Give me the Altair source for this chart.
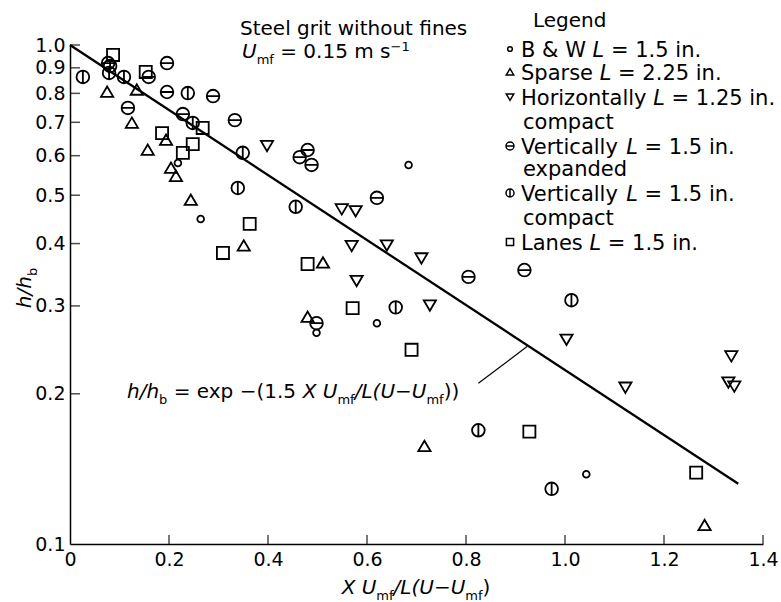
import altair as alt
import pandas as pd

# ---------------- data ----------------
bw_x = [0.218, 0.264, 0.498, 0.620, 0.684, 1.043]
bw_y = [0.580, 0.448, 0.265, 0.277, 0.575, 0.138]

sparse_x = [0.075, 0.135, 0.125, 0.194, 0.157, 0.204, 0.214, 0.244, 0.351, 0.511, 0.480, 0.716, 1.282]
sparse_y = [0.805, 0.813, 0.698, 0.645, 0.616, 0.567, 0.546, 0.489, 0.396, 0.366, 0.285, 0.157, 0.109]

horiz_x = [0.398, 0.549, 0.577, 0.569, 0.640, 0.710, 0.579, 0.727, 1.003, 1.122, 1.336, 1.330, 1.342]
horiz_y = [0.628, 0.469, 0.465, 0.396, 0.397, 0.374, 0.337, 0.301, 0.257, 0.206, 0.238, 0.211, 0.207]

vexp_x = [0.077, 0.159, 0.196, 0.196, 0.289, 0.117, 0.228, 0.333, 0.464, 0.480, 0.488, 0.620, 0.498, 0.805, 0.918]
vexp_y = [0.920, 0.863, 0.920, 0.805, 0.790, 0.748, 0.727, 0.707, 0.596, 0.616, 0.575, 0.494, 0.277, 0.343, 0.354]

vcomp_x = [0.026, 0.079, 0.081, 0.109, 0.238, 0.248, 0.349, 0.339, 0.456, 0.658, 1.013, 0.825, 0.973]
vcomp_y = [0.863, 0.879, 0.908, 0.863, 0.801, 0.698, 0.608, 0.517, 0.474, 0.298, 0.308, 0.169, 0.129]

lanes_x = [0.087, 0.153, 0.268, 0.186, 0.248, 0.228, 0.363, 0.309, 0.480, 0.571, 0.690, 0.928, 1.265]
lanes_y = [0.955, 0.883, 0.682, 0.666, 0.633, 0.608, 0.438, 0.383, 0.364, 0.297, 0.245, 0.168, 0.139]

fit_x = [0.0, 1.35]
fit_y = [1.0, 0.132]

leader_x = [0.825, 0.924]
leader_y = [0.210, 0.249]

x_ticks = [0, 0.2, 0.4, 0.6, 0.8, 1.0, 1.2, 1.4]
y_ticks = [0.1, 0.2, 0.3, 0.4, 0.5, 0.6, 0.7, 0.8, 0.9, 1.0]

# ---------------- layout ----------------
PL, PT, W, H = 70, 45, 693, 499
FONT = "DejaVu Sans"

SHAPES = {
    "circle": "circle",
    "tri_up": "M0,-0.9L1,0.8L-1,0.8Z",
    "tri_down": "M0,0.9L1,-0.8L-1,-0.8Z",
    "theta": "M-1,0A1,1 0 1,1 1,0A1,1 0 1,1 -1,0Z M-1,0L1,0",
    "phi": "M-1,0A1,1 0 1,1 1,0A1,1 0 1,1 -1,0Z M0,-1L0,1",
    "square": "M-0.9,-0.9L0.9,-0.9L0.9,0.9L-0.9,0.9Z",
}

series = [
    (bw_x, bw_y, "circle", 45),
    (sparse_x, sparse_y, "tri_up", 150),
    (horiz_x, horiz_y, "tri_down", 150),
    (vexp_x, vexp_y, "theta", 160),
    (vcomp_x, vcomp_y, "phi", 160),
    (lanes_x, lanes_y, "square", 180),
]

xscale = alt.Scale(domain=[0, 1.4], nice=False, zero=False)
yscale = alt.Scale(type="log", domain=[0.1, 1.0], nice=False, zero=False)

xaxis = alt.Axis(values=x_ticks, labelExpr="datum.value == 0 ? '0' : format(datum.value, '.1f')",
                 ticks=False, grid=False, domainColor="black", domainWidth=1.5,
                 labelFont=FONT, labelFontSize=19, labelColor="black", labelPadding=6,
                 labelFlush=False, labelOverlap=False, labelBound=False, title=None)
yaxis = alt.Axis(values=y_ticks, format=".1f", ticks=False, grid=False, domainColor="black",
                 domainWidth=1.5, labelFont=FONT, labelFontSize=19, labelColor="black",
                 labelPadding=5, labelFlush=False, labelOverlap=False, labelBound=False, title=None)


def X(f):
    return alt.X(f, type="quantitative", scale=xscale, axis=xaxis)


def Y(f):
    return alt.Y(f, type="quantitative", scale=yscale, axis=yaxis)


layers = []

# fitted line
fit_df = pd.DataFrame({"x": fit_x, "y": fit_y})
layers.append(alt.Chart(fit_df).mark_line(color="black", strokeWidth=2.3).encode(x=X("x"), y=Y("y")))

# leader line
lead_df = pd.DataFrame({"x": [leader_x[0]], "y": [leader_y[0]], "x2": [leader_x[1]], "y2": [leader_y[1]]})
layers.append(alt.Chart(lead_df).mark_rule(color="black", strokeWidth=1.2).encode(
    x=X("x"), y=Y("y"), x2="x2", y2="y2"))

# inward tick marks
xt_df = pd.DataFrame({"x": x_ticks[1:]})
layers.append(alt.Chart(xt_df).mark_tick(color="black", thickness=1.5, size=9).encode(
    x=X("x"), y=alt.value(H - 4.5)))
yt_df = pd.DataFrame({"y": y_ticks[1:]})
layers.append(alt.Chart(yt_df).mark_tick(color="black", thickness=1.5, size=10).encode(
    y=Y("y"), x=alt.value(5)))

# data points
for sx, sy, shp, sz in series:
    df = pd.DataFrame({"x": sx, "y": sy})
    layers.append(alt.Chart(df).mark_point(filled=False, color="black", strokeWidth=1.8, size=sz,
                                           opacity=1).encode(
        x=X("x"), y=Y("y"), shape=alt.value(SHAPES[shp])))

# ---------------- text layout helpers ----------------
CW = {' ': .318, '(': .390, ')': .390, '−': .838, '-': .361, '.': .318, '/': .337, '=': .838,
      '&': .780, 'B': .686, 'H': .752, 'L': .557, 'S': .635, 'U': .732, 'V': .684, 'W': .989,
      'X': .685, 'a': .613, 'b': .635, 'c': .550, 'd': .635, 'e': .615, 'f': .352, 'g': .635,
      'h': .634, 'i': .278, 'l': .278, 'm': .974, 'n': .634, 'o': .612, 'p': .635, 'r': .411,
      's': .521, 't': .392, 'u': .634, 'v': .592, 'w': .818, 'x': .592, 'y': .592, 'z': .525}


def tw(s, fs):
    return sum(CW.get(c, .636) for c in s) * fs


def piece_size(k, fs):
    return fs * 0.65 if k in ("sub", "sup") else fs


def add_run(pieces, x0, ymid, fs, anchor="left"):
    total = sum(tw(t, piece_size(k, fs)) for t, k in pieces)
    pos = x0 if anchor == "left" else x0 - total / 2
    base = ymid + 0.365 * fs
    for t, k in pieces:
        size = piece_size(k, fs)
        off = 0.28 * fs if k == "sub" else (-0.36 * fs if k == "sup" else 0)
        lead = tw(t[:len(t) - len(t.lstrip())], size)
        txt = t.strip()
        if txt:
            layers.append(alt.Chart(alt.Data(values=[{}])).mark_text(
                text=txt, font=FONT, fontSize=size, fontStyle="italic" if k == "i" else "normal",
                align="left", baseline="alphabetic", color="black").encode(
                x=alt.value(pos + lead - PL), y=alt.value(base + off - PT)))
        pos += tw(t, size)


# formula annotation
add_run([("h/h", "i"), ("b", "sub"), (" = exp −(1.5 ", "n"), ("X U", "i"), ("mf", "sub"),
         ("/L(U−U", "i"), ("mf", "sub"), ("))", "n")], 127, 391, 20)

# x axis title
add_run([("X U", "i"), ("mf", "sub"), ("/L(U−U", "i"), ("mf", "sub"), (")", "n")], 416, 587, 20,
        anchor="center")

# top annotation
add_run([("Steel grit without fines", "n")], 240, 28, 20)
add_run([("U", "i"), ("mf", "sub"), (" = 0.15 m s", "n"), ("−1", "sup")], 242, 51, 20)

# legend
add_run([("Legend", "n")], 533, 20, 20)
legend_rows = [
    (49, "circle", 22, [("B & W ", "n"), ("L", "i"), (" = 1.5 in.", "n")]),
    (72, "tri_up", 55, [("Sparse ", "n"), ("L", "i"), (" = 2.25 in.", "n")]),
    (97, "tri_down", 55, [("Horizontally ", "n"), ("L", "i"), (" = 1.25 in.", "n")]),
    (121, None, 0, [("compact", "n")]),
    (146, "theta", 64, [("Vertically ", "n"), ("L", "i"), (" = 1.5 in.", "n")]),
    (168, None, 0, [("expanded", "n")]),
    (193, "phi", 64, [("Vertically ", "n"), ("L", "i"), (" = 1.5 in.", "n")]),
    (217, None, 0, [("compact", "n")]),
    (242, "square", 64, [("Lanes ", "n"), ("L", "i"), (" = 1.5 in.", "n")]),
]
for ry, shp, sz, pieces in legend_rows:
    if shp:
        layers.append(alt.Chart(alt.Data(values=[{}])).mark_point(
            filled=False, color="black", strokeWidth=1.5, size=sz, opacity=1).encode(
            x=alt.value(510 - PL), y=alt.value(ry - PT), shape=alt.value(SHAPES[shp])))
        add_run(pieces, 521, ry, 21)
    else:
        add_run(pieces, 523, ry, 21)

# y axis title (rotated)
fs = 20
yt_pieces = [("h/h", "i"), ("b", "sub")]
total = sum(tw(t, piece_size(k, fs)) for t, k in yt_pieces)
pos = 288 + total / 2
bx = 24 + 0.365 * fs
for t, k in yt_pieces:
    size = piece_size(k, fs)
    off = 0.28 * fs if k == "sub" else 0
    layers.append(alt.Chart(alt.Data(values=[{}])).mark_text(
        text=t, font=FONT, fontSize=size, fontStyle="italic" if k == "i" else "normal",
        align="left", baseline="alphabetic", angle=270, color="black").encode(
        x=alt.value(bx + off - PL), y=alt.value(pos - PT)))
    pos -= tw(t, size)

chart = alt.layer(*layers).properties(
    width=W, height=H,
    autosize=alt.AutoSizeParams(type="none"),
    padding={"left": PL, "top": PT, "right": 781 - PL - W, "bottom": 602 - PT - H},
    background="white",
).configure_view(stroke=None)

chart.save("out.html", embed_options={"renderer": "svg", "actions": False})
